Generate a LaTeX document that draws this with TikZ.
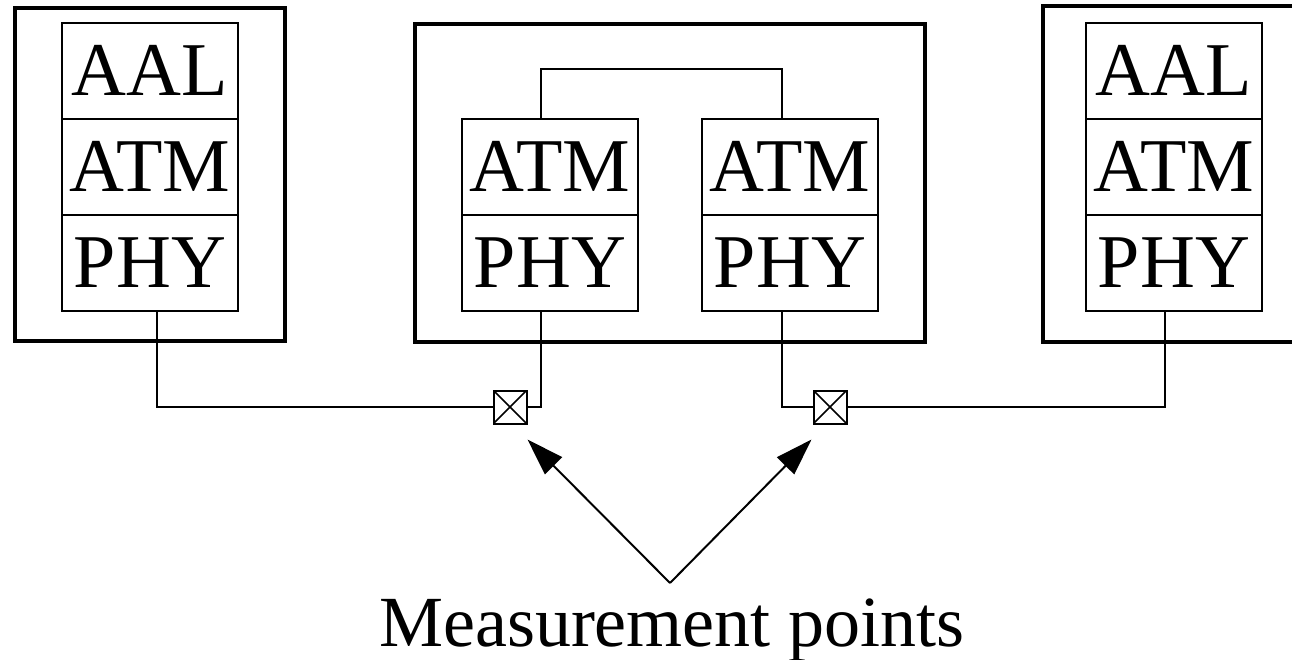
\documentclass[tikz,border=0pt]{standalone}
\usepackage{fontspec}
\setmainfont{Liberation Serif}
\usetikzlibrary{arrows.meta}

\begin{document}
\begin{tikzpicture}[
        x=1pt, y=-1pt,
        layer/.style={
            rectangle,
            draw=black,
            line width=2pt,
            minimum width=176pt,
            minimum height=96pt,
            inner sep=0pt,
            font=\fontsize{76}{84}\selectfont
        },
        station/.style={draw=black, line width=4.5pt},
        wire/.style={draw=black, line width=2pt},
        probe/.style={
            rectangle,
            draw=black,
            fill=white,
            line width=2pt,
            minimum size=33pt,
            inner sep=0pt,
            path picture={
                \draw[line width=1.5pt]
                    (path picture bounding box.south west) -- (path picture bounding box.north east)
                    (path picture bounding box.north west) -- (path picture bounding box.south east);
            }
        },
        pointer/.style={line width=2pt, -{Triangle[length=37pt,width=24pt]}}
    ]

    \useasboundingbox (0,0) rectangle (1292,659);
    \clip (0,0) rectangle (1292,659);

    % Estaciones
    \draw[station] (15,8)    rectangle (285,341);
    \draw[station] (415,24)  rectangle (925,342);
    \draw[station] (1043,6)  rectangle (1330,342);

    % Capas, extremo izquierdo
    \node[layer] (lAAL) at (150,70.5)  {AAL};
    \node[layer] (lATM) at (150,166.5) {ATM};
    \node[layer] (lPHY) at (150,262.5) {PHY};

    % Capas, conmutador
    \node[layer] (mlATM) at (550,166.5) {ATM};
    \node[layer] (mlPHY) at (550,262.5) {PHY};
    \node[layer] (mrATM) at (790,166.5) {ATM};
    \node[layer] (mrPHY) at (790,262.5) {PHY};

    % Capas, extremo derecho
    \node[layer] (rAAL) at (1174,70.5)  {AAL};
    \node[layer] (rATM) at (1174,166.5) {ATM};
    \node[layer] (rPHY) at (1174,262.5) {PHY};

    % Puntos de medida
    \node[probe] (mp1) at (510,407) {};
    \node[probe] (mp2) at (830,407) {};

    % Enlaces
    \draw[wire] ([xshift=-9pt]mlATM.north) -- ++(0,-49) -| ([xshift=-8pt]mrATM.north);
    \draw[wire] ([xshift=7pt]lPHY.south) |- (mp1.west);
    \draw[wire] (mp1.east) -| ([xshift=-9pt]mlPHY.south);
    \draw[wire] ([xshift=-8pt]mrPHY.south) |- (mp2.west);
    \draw[wire] (mp2.east) -| ([xshift=-9pt]rPHY.south);

    % Etiqueta
    \coordinate (apex) at (670,583);
    \node[anchor=base, inner sep=0pt, font=\fontsize{72}{80}\selectfont] (mlabel) at (672,646) {Measurement points};
    \draw[pointer] (apex) -- ([yshift=-15pt]mp1.south east);
    \draw[pointer] (apex) -- ([xshift=-1pt,yshift=-15pt]mp2.south west);

\end{tikzpicture}
\end{document}
